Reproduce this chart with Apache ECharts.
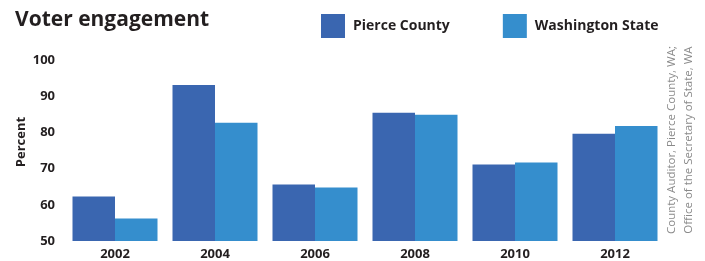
<!DOCTYPE html>
<html>
<head>
<meta charset="utf-8">
<script src="https://cdn.jsdelivr.net/npm/echarts@6/dist/echarts.min.js"></script>
<style>
  html, body { margin: 0; padding: 0; background: #fff; }
  #main { width: 705px; height: 261px; }
</style>
</head>
<body>
<div id="main"></div>
<script>
// data
var years = ['2002', '2004', '2006', '2008', '2010', '2012'];
var pierce = [62.3, 93.1, 65.6, 85.4, 71.1, 79.6];
var washington = [56.2, 82.7, 64.8, 84.9, 71.7, 81.8];
var yTicks = [50, 60, 70, 80, 90, 100];

var myChart = echarts.init(document.getElementById('main'));

var font = '"Open Sans", "Noto Sans", sans-serif';

option = {
  color: ['#3A66B0', '#358ECD'],
  animation: false,
  textStyle: { fontFamily: font },
  title: {
    text: 'Voter engagement',
    left: 10,
    top: 5,
    textStyle: { fontSize: 21, fontWeight: 'bold', color: '#231f20', fontFamily: font }
  },
  legend: {
    left: 316,
    top: 9,
    itemWidth: 24,
    itemHeight: 24,
    itemGap: 53,
    icon: 'rect',
    textStyle: { fontSize: 14, fontWeight: 'bold', color: '#231f20', fontFamily: font, padding: [0, 0, 0, 3] },
    data: ['Pierce County', 'Washington State']
  },
  grid: { left: 65, right: 40, top: 60, bottom: 19.3 },
  xAxis: {
    type: 'category',
    data: years,
    axisLine: { show: false },
    axisTick: { show: false },
    axisLabel: { fontSize: 13, fontWeight: 'bold', color: '#231f20', margin: 7 }
  },
  yAxis: {
    type: 'value',
    min: yTicks[0],
    max: yTicks[yTicks.length - 1],
    interval: 10,
    splitLine: { show: false },
    axisLine: { show: false },
    axisTick: { show: false },
    axisLabel: { fontSize: 13, fontWeight: 'bold', color: '#231f20', margin: 10 }
  },
  graphic: [{
    type: 'text',
    x: 21,
    y: 142,
    rotation: Math.PI / 2,
    style: {
      text: 'Percent',
      font: 'bold 13px ' + font,
      fill: '#231f20',
      align: 'center',
      verticalAlign: 'middle'
    }
  }, {
    type: 'text',
    x: 680,
    y: 140,
    rotation: Math.PI / 2,
    style: {
      text: 'County Auditor, Pierce County, WA;\nOffice of the Secretary of State, WA',
      font: '11.5px ' + font,
      lineHeight: 17,
      fill: '#8a8a8a',
      align: 'center',
      verticalAlign: 'middle'
    }
  }],
  series: [{
    name: 'Pierce County',
    type: 'bar',
    barGap: '0%',
    barCategoryGap: '15%',
    data: pierce
  }, {
    name: 'Washington State',
    type: 'bar',
    data: washington
  }]
};

myChart.setOption(option);
</script>
</body>
</html>
